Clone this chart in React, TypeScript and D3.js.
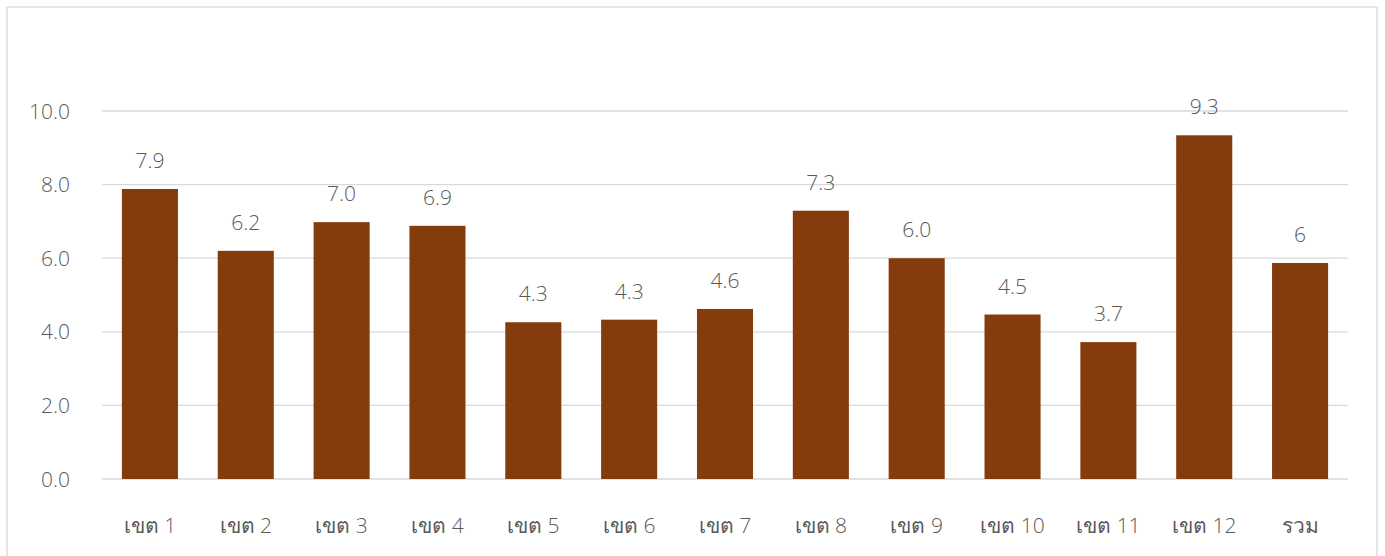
import React, { useEffect } from "react";
import * as d3 from "d3";

const categories = ["เขต 1", "เขต 2", "เขต 3", "เขต 4", "เขต 5", "เขต 6", "เขต 7", "เขต 8", "เขต 9", "เขต 10", "เขต 11", "เขต 12", "รวม"];
const values = [7.88, 6.2, 6.98, 6.88, 4.26, 4.33, 4.62, 7.29, 6.0, 4.47, 3.72, 9.34, 5.87];
// the total is shown as a whole number, the districts with one decimal
const labelDecimals = [1, 1, 1, 1, 1, 1, 1, 1, 1, 1, 1, 1, 0];
const yTicks = [0, 2, 4, 6, 8, 10];

const W = 1385;
const H = 556;
const margin = { left: 102, right: 1348, top: 111, bottom: 479 };
const BAR = "#843C0C";
const TEXT = "#595959";
const GRID = "#D9D9D9";
const NUM_FONT = "'Open Sans', 'Noto Sans', sans-serif";
const THAI_FONT = "'Noto Sans', sans-serif";

// Thai words use the regular face, the district numbers the light face
function CategoryLabel({ text }: { text: string }) {
  const parts = text.split(/(\d+)/).filter((p) => p.length > 0);
  return (
    <>
      {parts.map((p, k) =>
        /^\d+$/.test(p) ? (
          <tspan key={k} fontFamily={NUM_FONT} fontWeight={300}>
            {p}
          </tspan>
        ) : (
          <tspan key={k} fontFamily={THAI_FONT} fontWeight={400}>
            {p}
          </tspan>
        )
      )}
    </>
  );
}

export default function App() {
  useEffect(() => {
    document.body.style.margin = "0";
  }, []);

  const x = d3
    .scaleBand<string>()
    .domain(categories)
    .range([margin.left, margin.right])
    .paddingInner(0.415)
    .paddingOuter(0.2075);
  const y = d3.scaleLinear().domain([0, 10]).range([margin.bottom, margin.top]);

  return (
    <svg width={W} height={H} style={{ display: "block", background: "#fff" }}>
      <rect x={7} y={7} width={1370} height={560} fill="#fff" stroke={GRID} strokeWidth={1.3} />
      {yTicks.map((t) => (
        <g key={t}>
          <line x1={margin.left} x2={margin.right} y1={y(t)} y2={y(t)} stroke={GRID} strokeWidth={1.3} />
          <text
            x={70}
            y={y(t)}
            dy="0.36em"
            textAnchor="end"
            fill={TEXT}
            fontFamily={NUM_FONT}
            fontWeight={300}
            fontSize={21}
          >
            {d3.format(".1f")(t)}
          </text>
        </g>
      ))}
      {categories.map((c, i) => {
        const bx = x(c)!;
        const bw = x.bandwidth();
        const top = y(values[i]);
        return (
          <g key={c}>
            <rect x={bx} y={top} width={bw} height={y(0) - top} fill={BAR} />
            <text
              x={bx + bw / 2}
              y={top - 21}
              textAnchor="middle"
              fill={TEXT}
              fontFamily={NUM_FONT}
              fontWeight={300}
              fontSize={21}
            >
              {d3.format(`.${labelDecimals[i]}f`)(values[i])}
            </text>
            <text x={bx + bw / 2} y={533} textAnchor="middle" fill={TEXT} fontSize={21}>
              <CategoryLabel text={c} />
            </text>
          </g>
        );
      })}
    </svg>
  );
}
